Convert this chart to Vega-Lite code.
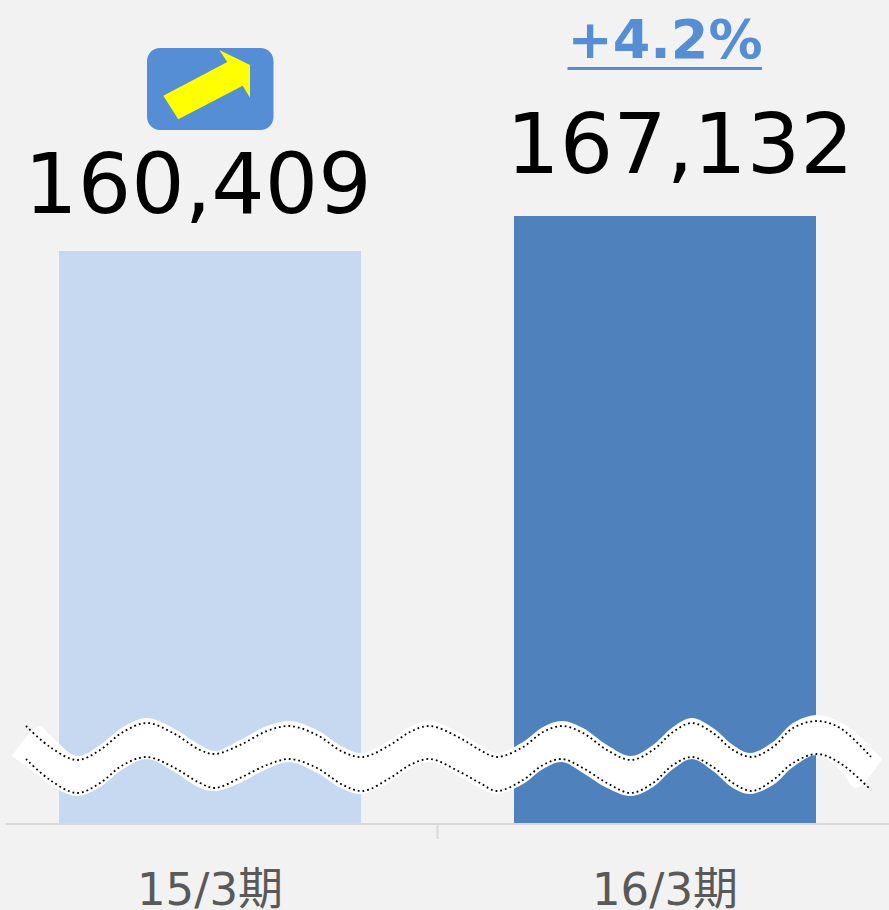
{
"$schema":"https://vega.github.io/schema/vega-lite/v6.json",
"width":889,"height":824,
"autosize":{"type":"none"},
"padding":{"left":0,"top":0,"right":0,"bottom":86},
"background":"#f2f2f2",
"view":{"stroke":null},
"config":{"style":{"cell":{"stroke":null}}},
"datasets":{
"bars":[{"period":"15/3期","sales":160409},{"period":"16/3期","sales":167132}],
"edge":[{"u":12,"top":756,"bottom":756},{"u":39,"top":726,"bottom":776},{"u":50,"top":735,"bottom":785},{"u":77,"top":756,"bottom":796},{"u":100,"top":745,"bottom":787},{"u":123,"top":727,"bottom":769},{"u":147,"top":718,"bottom":759},{"u":173,"top":728,"bottom":771},{"u":200,"top":745,"bottom":788},{"u":215,"top":751,"bottom":791},{"u":240,"top":740,"bottom":783},{"u":267,"top":726,"bottom":769},{"u":290,"top":721,"bottom":762},{"u":317,"top":730,"bottom":773},{"u":343,"top":747,"bottom":789},{"u":362,"top":753,"bottom":794},{"u":390,"top":740,"bottom":782},{"u":410,"top":727,"bottom":769},{"u":430,"top":721,"bottom":762},{"u":460,"top":733,"bottom":777},{"u":480,"top":745,"bottom":788},{"u":497,"top":753,"bottom":794},{"u":523,"top":742,"bottom":784},{"u":543,"top":727,"bottom":769},{"u":562,"top":721,"bottom":762},{"u":583,"top":728,"bottom":773},{"u":607,"top":745,"bottom":788},{"u":631,"top":756,"bottom":796},{"u":653,"top":745,"bottom":787},{"u":673,"top":727,"bottom":769},{"u":692,"top":718,"bottom":759},{"u":713,"top":728,"bottom":771},{"u":733,"top":745,"bottom":788},{"u":750,"top":753,"bottom":794},{"u":773,"top":742,"bottom":785},{"u":793,"top":723,"bottom":767},{"u":817,"top":715,"bottom":755},{"u":840,"top":722,"bottom":770},{"u":856,"top":733,"bottom":788},{"u":882,"top":759,"bottom":759}],
"dots":[{"u":26,"a":726,"b":759},{"u":50,"a":747,"b":780},{"u":77,"a":760,"b":793},{"u":100,"a":750,"b":783},{"u":123,"a":732,"b":765},{"u":147,"a":723,"b":757},{"u":173,"a":733,"b":767},{"u":200,"a":750,"b":783},{"u":215,"a":754,"b":788},{"u":240,"a":745,"b":778},{"u":267,"a":731,"b":765},{"u":290,"a":726,"b":759},{"u":317,"a":735,"b":768},{"u":343,"a":752,"b":785},{"u":363,"a":757,"b":791},{"u":390,"a":745,"b":778},{"u":410,"a":732,"b":765},{"u":430,"a":726,"b":759},{"u":460,"a":738,"b":772},{"u":480,"a":750,"b":783},{"u":497,"a":757,"b":791},{"u":523,"a":747,"b":780},{"u":543,"a":732,"b":765},{"u":562,"a":726,"b":759},{"u":583,"a":733,"b":768},{"u":607,"a":750,"b":783},{"u":631,"a":760,"b":793},{"u":653,"a":750,"b":783},{"u":673,"a":732,"b":765},{"u":692,"a":723,"b":757},{"u":713,"a":733,"b":767},{"u":733,"a":750,"b":783},{"u":752,"a":757,"b":791},{"u":773,"a":747,"b":780},{"u":793,"a":728,"b":763},{"u":817,"a":721,"b":754},{"u":840,"a":728,"b":763},{"u":871,"a":757,"b":790}]
},
"resolve":{"scale":{"x":"independent","y":"independent"}},
"layer":[
{
"data":{"name":"bars"},
"encoding":{
"x":{"field":"period","type":"nominal","scale":{"type":"band","domain":["15/3期","16/3期"],"range":[59,816],"paddingInner":0.3363,"paddingOuter":0},"axis":{"title":null,"domain":false,"ticks":false,"grid":false,"labelAngle":0,"labelFont":"DejaVu Sans, Noto Sans CJK JP","labelFontSize":45,"labelColor":"#595959","labelPadding":44,"labelBaseline":"top"}},
"y":{"field":"sales","type":"quantitative","scale":{"domain":[50337,208620],"zero":false},"axis":null}
},
"layer":[
{"mark":{"type":"bar"},"encoding":{"y2":{"datum":50337},"color":{"field":"period","type":"nominal","scale":{"domain":["15/3期","16/3期"],"range":["#c6d9f1","#4f81bd"]},"legend":null}}},
{"transform":[{"filter":"datum.sales < 165000"}],"mark":{"type":"text","font":"DejaVu Sans","fontSize":84,"color":"#000000","dx":-12,"dy":-38,"baseline":"alphabetic","align":"center"},"encoding":{"text":{"field":"sales","type":"quantitative","format":","}}},
{"transform":[{"filter":"datum.sales > 165000"}],"mark":{"type":"text","font":"DejaVu Sans","fontSize":84,"color":"#000000","dx":15,"dy":-43,"baseline":"alphabetic","align":"center"},"encoding":{"text":{"field":"sales","type":"quantitative","format":","}}},
{"transform":[{"filter":"datum.sales > 165000"}],"mark":{"type":"text","font":"DejaVu Sans","fontSize":54,"fontWeight":"bold","color":"#558ed5","dy":-158,"baseline":"alphabetic","align":"center","text":"+4.2%"}}
]
},
{
"encoding":{
"x":{"type":"quantitative","scale":{"domain":[0,889],"nice":false,"zero":false},"axis":null},
"y":{"type":"quantitative","scale":{"domain":[824,0],"nice":false,"zero":false},"axis":null}
},
"layer":[
{"data":{"values":[{"from":6,"to":889,"level":824}]},"mark":{"type":"rule","color":"#d9d9d9","strokeWidth":2},"encoding":{"x":{"field":"from","type":"quantitative"},"x2":{"field":"to"},"y":{"field":"level","type":"quantitative"}}},
{"data":{"values":[{"at":437.5,"from":824,"to":839}]},"mark":{"type":"rule","color":"#d9d9d9","strokeWidth":2},"encoding":{"x":{"field":"at","type":"quantitative"},"y":{"field":"from","type":"quantitative"},"y2":{"field":"to"}}},
{"data":{"name":"edge"},"mark":{"type":"area","color":"#ffffff","interpolate":"catmull-rom","orient":"vertical"},"encoding":{"x":{"field":"u","type":"quantitative"},"y":{"field":"top","type":"quantitative","stack":null},"y2":{"field":"bottom"}}},
{"data":{"name":"dots"},"mark":{"type":"line","color":"#000000","strokeWidth":1.8,"strokeDash":[1.8,3],"interpolate":"catmull-rom"},"encoding":{"x":{"field":"u","type":"quantitative"},"y":{"field":"a","type":"quantitative"}}},
{"data":{"name":"dots"},"mark":{"type":"line","color":"#000000","strokeWidth":1.8,"strokeDash":[1.8,3],"interpolate":"catmull-rom"},"encoding":{"x":{"field":"u","type":"quantitative"},"y":{"field":"b","type":"quantitative"}}},
{"data":{"values":[{"from":147,"to":273.5,"t":48,"b":130}]},"mark":{"type":"rect","color":"#558ed5","cornerRadius":13},"encoding":{"x":{"field":"from","type":"quantitative"},"x2":{"field":"to"},"y":{"field":"t","type":"quantitative"},"y2":{"field":"b"}}},
{"data":{"values":[{"cx":205,"cy":85}]},"mark":{"type":"point","filled":true,"opacity":1,"color":"#ffff00","size":10000,"strokeWidth":0,"shape":"M-0.834,0.214L-0.534,0.686L0.754,0.014L0.9,0.254L0.9,-0.4L0.286,-0.7L0.446,-0.46Z"},"encoding":{"x":{"field":"cx","type":"quantitative"},"y":{"field":"cy","type":"quantitative"}}},
{"data":{"values":[{"from":567.5,"to":762,"level":68.5}]},"mark":{"type":"rule","color":"#558ed5","strokeWidth":3},"encoding":{"x":{"field":"from","type":"quantitative"},"x2":{"field":"to"},"y":{"field":"level","type":"quantitative"}}}
]
}
]
}
